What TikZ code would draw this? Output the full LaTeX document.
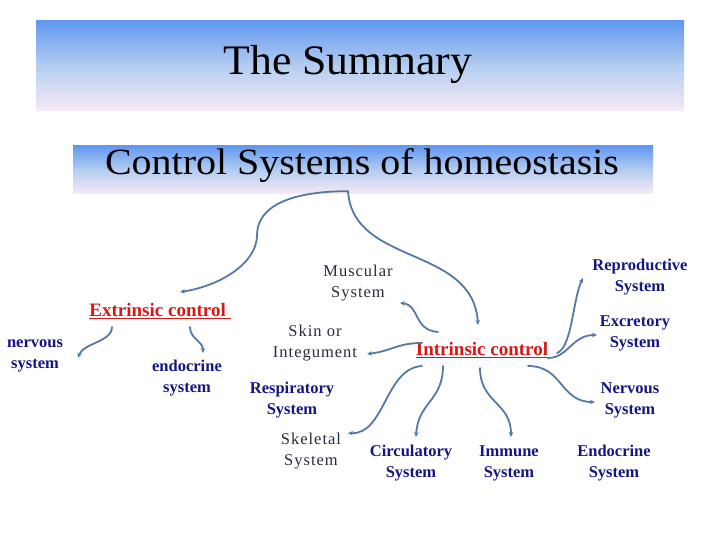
\documentclass[tikz,border=0pt]{standalone}
\usepackage{fontspec}
\setmainfont{Liberation Serif}
\newfontfamily\spacedserif[LetterSpace=6]{Liberation Serif}
\usepackage{tikz}
\usetikzlibrary{arrows.meta}
\usepackage{xcolor}

\definecolor{bandtop}{RGB}{98,152,240}
\definecolor{bandmid}{RGB}{180,205,240}
\definecolor{bandbot}{RGB}{248,234,246}
\definecolor{linkblue}{RGB}{85,120,165}
\definecolor{labnavy}{RGB}{22,22,130}
\definecolor{labgray}{RGB}{40,44,56}
\definecolor{ctrlred}{RGB}{218,22,22}

\tikzset{
  band/.style={inner sep=0, top color=bandtop, bottom color=bandbot, middle color=bandmid},
  ctrltext/.style={inner sep=0, text=ctrlred, font=\fontsize{19}{20}\selectfont\bfseries},
  navylab/.style={inner sep=0, align=center, text=labnavy, font=\fontsize{16.5}{21}\selectfont\bfseries},
  graylab/.style={inner sep=0, align=center, text=labgray, font=\spacedserif\fontsize{16.5}{21}\selectfont},
  linkarrow/.style={draw=linkblue, line width=1.8pt, line cap=round, -{Stealth[length=5pt,width=4.5pt]}}
}

\begin{document}
\begin{tikzpicture}[x=1pt,y=-1pt]
\useasboundingbox (0,0) rectangle (720,540);
\node[band,minimum width=648pt,minimum height=90pt] (sumband) at (360,66) {};
\node[band,minimum width=580pt,minimum height=48pt] (ctrlband) at (363,170) {};
\node[font=\fontsize{42}{46}\selectfont,xscale=1.04] (summ) at (348,64) {The Summary};
\node[font=\fontsize{37}{42}\selectfont,xscale=1.08] (ctrl) at (362,165) {Control Systems of homeostasis};

\node[ctrltext] (extr) at (160,311) {\underline{Extrinsic control\ }};
\node[ctrltext] (intr) at (482,350) {\underline{Intrinsic control}};

\node[navylab] (nerv) at (35,356) {nervous\\system};
\node[navylab] (endo) at (187,378) {endocrine\\system};
\node[graylab] (musc) at (358,283) {Muscular\\System};
\node[graylab] (skin) at (315,343) {Skin or\\Integument};
\node[navylab] (resp) at (292,400) {Respiratory\\System};
\node[graylab] (skel) at (311,451) {Skeletal\\System};
\node[navylab] (circ) at (411,463) {Circulatory\\System};
\node[navylab] (immu) at (509,463) {Immune\\System};
\node[navylab] (endc) at (614,463) {Endocrine\\System};
\node[navylab] (nerS) at (630,400) {Nervous\\System};
\node[navylab] (excr) at (635,333) {Excretory\\System};
\node[navylab] (repr) at (640,277) {Reproductive\\System};

\draw[linkarrow] ([shift={(-15,-3)}]ctrlband.south) .. controls +(-55,0) and +(0,-30) .. ++(-91,44)
  .. controls +(0,28) and +(40,-6) .. ([shift={(20,-19)}]extr.center);
\draw[linkarrow] ([shift={(-15,-3)}]ctrlband.south) .. controls +(5,75) and +(-5,-80) .. ([shift={(-4,-25)}]intr.center);

\draw[linkarrow] ([shift={(-48,16)}]extr.center) .. controls +(0,15) and +(5,-15) .. ([shift={(43,2)}]nerv.center);
\draw[linkarrow] ([shift={(30,16)}]extr.center) .. controls +(0,12) and +(0,-12) .. ([shift={(16,-25)}]endo.center);

\draw[linkarrow] ([shift={(-44,-18)}]intr.center) .. controls +(-25,-2) and +(20,2) .. ([shift={(42,20)}]musc.center);
\draw[linkarrow] ([shift={(-60,-7)}]intr.center) .. controls +(-25,0) and +(25,-3) .. ([shift={(52,11)}]skin.center);
\draw[linkarrow] ([shift={(-60,16)}]intr.center) .. controls +(-37,2) and +(37,2) .. ([shift={(37,-18)}]skel.center);
\draw[linkarrow] ([shift={(-39,16)}]intr.center) .. controls +(0,35) and +(2,-35) .. ([shift={(5,-26)}]circ.center);
\draw[linkarrow] ([shift={(-2,18)}]intr.center) .. controls +(0,35) and +(0,-35) .. ([shift={(2,-26)}]immu.center);
\draw[linkarrow] ([shift={(75,3)}]intr.center) .. controls +(15,-5) and +(-10,20) .. ([shift={(-57,1)}]repr.center);
\draw[linkarrow] ([shift={(66,8)}]intr.center) .. controls +(20,0) and +(-25,0) .. ([shift={(-38,2)}]excr.center);
\draw[linkarrow] ([shift={(46,16)}]intr.center) .. controls +(35,0) and +(-35,0) .. ([shift={(-35,2)}]nerS.center);
\end{tikzpicture}
\end{document}
